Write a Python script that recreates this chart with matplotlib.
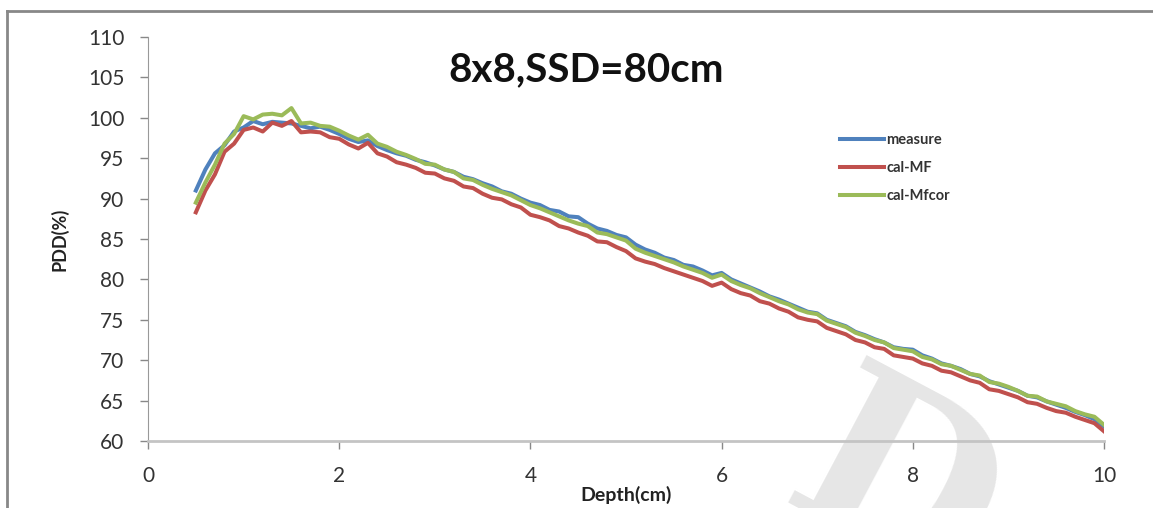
import matplotlib.pyplot as plt
import numpy as np

# Data (depth step 0.1 cm, 0.5 .. 10.0)
depth = np.round(np.arange(0.5, 10.01, 0.1), 2)

measure = [
    91.0, 93.6, 95.6, 96.6, 98.3, 98.8, 99.6, 99.2, 99.5, 99.4,
    99.3, 99.0, 98.7, 98.9, 98.5, 98.0, 97.4, 97.0, 97.2, 96.5,
    96.0, 95.6, 95.3, 94.8, 94.5, 94.1, 93.6, 93.3, 92.7, 92.4,
    91.9, 91.5, 90.9, 90.6, 90.0, 89.5, 89.2, 88.6, 88.4, 87.8,
    87.7, 86.9, 86.3, 86.0, 85.5, 85.2, 84.3, 83.7, 83.3, 82.7,
    82.4, 81.8, 81.6, 81.1, 80.5, 80.8, 80.0, 79.5, 79.0, 78.5,
    77.9, 77.5, 77.0, 76.5, 76.0, 75.8, 75.0, 74.6, 74.2, 73.5,
    73.1, 72.6, 72.2, 71.6, 71.4, 71.3, 70.6, 70.2, 69.6, 69.3,
    68.9, 68.3, 68.0, 67.4, 67.0, 66.6, 66.2, 65.6, 65.4, 64.9,
    64.5, 64.1, 63.6, 63.2, 62.7, 61.8,
]

cal_mf = [
    88.3, 91.0, 93.0, 95.8, 96.8, 98.5, 98.8, 98.3, 99.4, 99.0,
    99.6, 98.2, 98.3, 98.2, 97.6, 97.4, 96.7, 96.2, 96.9, 95.6,
    95.2, 94.5, 94.2, 93.8, 93.2, 93.1, 92.5, 92.2, 91.5, 91.3,
    90.6, 90.1, 89.9, 89.3, 88.9, 88.0, 87.7, 87.3, 86.6, 86.3,
    85.8, 85.4, 84.7, 84.6, 84.0, 83.5, 82.6, 82.2, 81.9, 81.4,
    81.0, 80.6, 80.2, 79.8, 79.2, 79.6, 78.8, 78.3, 78.0, 77.3,
    77.0, 76.4, 76.0, 75.3, 75.0, 74.8, 74.0, 73.6, 73.2, 72.5,
    72.2, 71.6, 71.4, 70.6, 70.4, 70.2, 69.6, 69.3, 68.7, 68.5,
    68.0, 67.5, 67.2, 66.4, 66.2, 65.8, 65.4, 64.8, 64.6, 64.1,
    63.7, 63.5, 63.0, 62.6, 62.2, 61.2,
]

cal_mfcor = [
    89.5, 92.0, 94.2, 96.8, 98.0, 100.2, 99.8, 100.4, 100.5, 100.3,
    101.2, 99.3, 99.4, 99.0, 98.9, 98.4, 97.8, 97.3, 97.9, 96.8,
    96.4, 95.8, 95.4, 94.9, 94.3, 94.2, 93.6, 93.3, 92.5, 92.3,
    91.7, 91.2, 90.8, 90.4, 89.8, 89.2, 88.8, 88.3, 87.8, 87.3,
    86.9, 86.6, 85.8, 85.6, 85.2, 84.8, 83.8, 83.3, 82.9, 82.5,
    82.1, 81.6, 81.2, 80.8, 80.2, 80.6, 79.8, 79.3, 78.9, 78.3,
    77.8, 77.3, 76.9, 76.3, 75.9, 75.7, 74.9, 74.5, 74.1, 73.4,
    73.0, 72.5, 72.2, 71.5, 71.3, 71.1, 70.4, 70.1, 69.5, 69.3,
    68.8, 68.3, 68.1, 67.3, 67.1, 66.7, 66.2, 65.6, 65.5, 64.9,
    64.6, 64.3, 63.7, 63.3, 63.0, 62.0,
]

series_names = ["measure", "cal-MF", "cal-Mfcor"]
series_colors = ["#4F81BD", "#C0504D", "#9BBB59"]

plt.rcParams['font.family'] = ['Lato', 'DejaVu Sans']

fig = plt.figure(figsize=(11.53, 5.08), dpi=100)
ax = fig.add_axes([0.1284, 0.1319, 0.8291, 0.7953])

for vals, name, col in zip([measure, cal_mf, cal_mfcor], series_names, series_colors):
    ax.plot(depth, vals, color=col, lw=2.9, label=name, zorder=3)

ax.set_xlim(0, 10)
ax.set_ylim(60, 110)
ax.set_xticks(np.arange(0, 11, 2))
ax.set_yticks(np.arange(60, 111, 5))
ax.tick_params(axis='both', labelsize=15, labelcolor='#333333', color='#888888',
               length=6, width=1)
ax.tick_params(axis='y', pad=11)
ax.tick_params(axis='x', pad=12)
for s in ['top', 'right']:
    ax.spines[s].set_visible(False)
ax.spines['left'].set_color('#999999')
ax.spines['bottom'].set_color('#c4c4c4')
ax.spines['bottom'].set_linewidth(2)

ax.set_xlabel("Depth(cm)", fontsize=14, fontweight='bold', color='#222222', labelpad=0)
ax.set_ylabel("PDD(%)", fontsize=13, fontweight='bold', color='#222222', labelpad=14)

ax.text(0.458, 0.92, "8x8,SSD=80cm", transform=ax.transAxes, ha='center', va='center',
        fontsize=29, fontweight='bold', color='#111111')

leg = ax.legend(loc='upper left', bbox_to_anchor=(0.71, 0.795), frameon=False,
                fontsize=10.5, handlelength=3.0, handletextpad=0.2, labelspacing=0.95)
for t in leg.get_texts():
    t.set_fontweight('bold')
    t.set_color('#333333')

# faint watermark
ax.text(0.78, -0.13, "D", transform=ax.transAxes, fontsize=165, family='DejaVu Serif',
        fontweight='bold', color='#e6e6e6', rotation=-28, ha='center', va='center',
        zorder=0, clip_on=False)

# frame on top and left
fig.add_artist(plt.Line2D([7 / 1153, 1], [1 - 11 / 508, 1 - 11 / 508], color='#888888', lw=2))
fig.add_artist(plt.Line2D([7 / 1153, 7 / 1153], [0, 1 - 11 / 508], color='#888888', lw=2))

fig.savefig("out.png", dpi=100)
